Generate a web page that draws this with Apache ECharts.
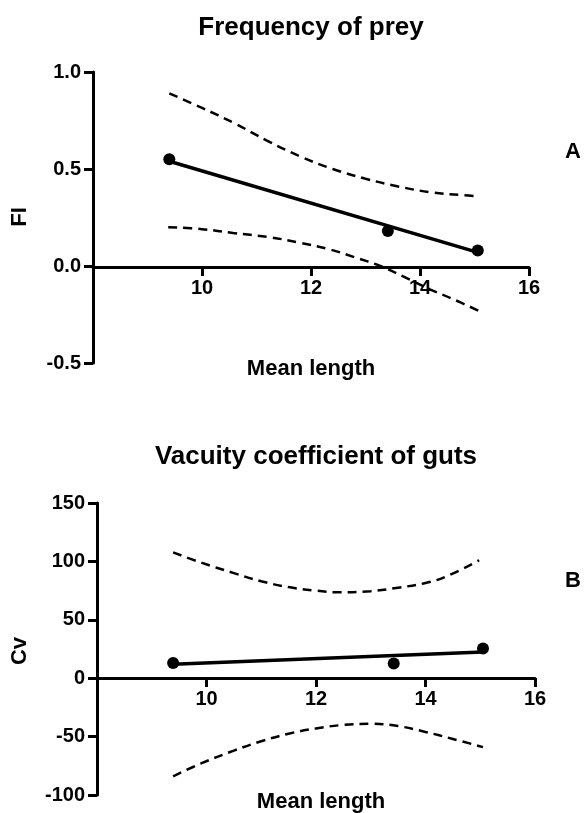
<!DOCTYPE html>
<html>
<head>
<meta charset="utf-8">
<script src="https://cdn.jsdelivr.net/npm/echarts@6/dist/echarts.min.js"></script>
<style>
  html, body { margin: 0; padding: 0; background: #fff; }
  #chart { width: 585px; height: 813px; }
</style>
</head>
<body>
<div id="chart"></div>
<script>
// panel A: frequency of prey
const lengthA = [9.4, 13.41, 15.06];
const fiA = [0.55, 0.18, 0.08];
const fitXA = [9.4, 15.06];
const fitYA = [0.54, 0.07];
const upperXA = [9.4, 10.0, 10.6, 11.2, 11.8, 12.4, 13.0, 13.6, 14.2, 14.8, 15.07];
const upperYA = [0.89, 0.815, 0.735, 0.645, 0.565, 0.5, 0.45, 0.41, 0.38, 0.365, 0.36];
const lowerXA = [9.38, 10.0, 10.57, 11.2, 11.8, 12.35, 12.8, 13.27, 13.7, 14.18, 14.6, 15.07];
const lowerYA = [0.2, 0.19, 0.17, 0.15, 0.12, 0.085, 0.045, 0.0, -0.055, -0.12, -0.17, -0.23];

// panel B: vacuity coefficient
const lengthB = [9.39, 13.42, 15.05];
const cvB = [13, 12.5, 25.5];
const fitXB = [9.39, 15.05];
const fitYB = [12, 22.5];
const upperXB = [9.39, 9.9, 10.5, 11.0, 11.5, 12.0, 12.45, 13.0, 13.5, 14.0, 14.4, 14.98];
const upperYB = [107.7, 99, 90, 83, 78, 75, 73.5, 74.5, 77.5, 81.5, 87.5, 101];
const lowerXB = [9.39, 9.9, 10.5, 11.0, 11.5, 12.0, 12.5, 13.0, 13.5, 14.0, 14.5, 15.05];
const lowerYB = [-84, -73, -62, -54, -47.5, -43, -40, -39, -41, -46, -52, -59];

const xTicks = { min: 8, max: 16, interval: 2 };
const yTicksA = { min: -0.5, max: 1, interval: 0.5 };
const yTicksB = { min: -100, max: 150, interval: 50 };

const FONT = '"Liberation Sans", Arial, sans-serif';
const zip = (xs, ys) => xs.map((x, i) => [x, ys[i]]);

const axisLine = { onZero: false, lineStyle: { color: '#000', width: 3 } };
const axisTick = { length: 9, lineStyle: { color: '#000', width: 3 } };

// x axis is drawn through y = 0, so it is lifted from the grid bottom
function xAxis(gridIndex, lift) {
  return {
    type: 'value', gridIndex, offset: -lift,
    min: xTicks.min, max: xTicks.max, interval: xTicks.interval,
    axisLine, axisTick,
    splitLine: { show: false },
    axisLabel: {
      showMinLabel: false, margin: 11, color: '#000',
      fontFamily: FONT, fontWeight: 'bold', fontSize: 20
    }
  };
}

function yAxis(gridIndex, t, fmt) {
  return {
    type: 'value', gridIndex,
    min: t.min, max: t.max, interval: t.interval,
    axisLine, axisTick,
    splitLine: { show: false },
    axisLabel: {
      margin: 12, color: '#000', formatter: fmt,
      fontFamily: FONT, fontWeight: 'bold', fontSize: 20
    }
  };
}

function panelSeries(idx, px, py, fx, fy, ux, uy, lx, ly) {
  const dashed = { color: '#000', width: 2.5, type: [9, 6] };
  return [
    { type: 'line', xAxisIndex: idx, yAxisIndex: idx, data: zip(fx, fy), symbol: 'none',
      lineStyle: { color: '#000', width: 3.5 }, z: 3 },
    { type: 'line', xAxisIndex: idx, yAxisIndex: idx, data: zip(ux, uy), symbol: 'none',
      smooth: 0.4, lineStyle: dashed },
    { type: 'line', xAxisIndex: idx, yAxisIndex: idx, data: zip(lx, ly), symbol: 'none',
      smooth: 0.4, lineStyle: dashed },
    { type: 'scatter', xAxisIndex: idx, yAxisIndex: idx, data: zip(px, py), symbolSize: 12,
      itemStyle: { color: '#000', opacity: 1 }, z: 4 }
  ];
}

function label(text, x, y, size, rot) {
  return {
    type: 'text', x, y, rotation: rot || 0,
    style: {
      text, fill: '#000', font: 'bold ' + size + 'px ' + FONT,
      textAlign: 'center', align: 'center',
      textVerticalAlign: 'middle', verticalAlign: 'middle'
    }
  };
}

const chart = echarts.init(document.getElementById('chart'), null, { renderer: 'canvas' });
chart.setOption({
  backgroundColor: '#fff',
  animation: false,
  grid: [
    { left: 93, top: 72, width: 436, height: 291 },
    { left: 97, top: 503, width: 438, height: 292 }
  ],
  xAxis: [xAxis(0, 96), xAxis(1, 117)],
  yAxis: [
    yAxis(0, yTicksA, v => v.toFixed(1)),
    yAxis(1, yTicksB, v => String(v))
  ],
  series: [
    ...panelSeries(0, lengthA, fiA, fitXA, fitYA, upperXA, upperYA, lowerXA, lowerYA),
    ...panelSeries(1, lengthB, cvB, fitXB, fitYB, upperXB, upperYB, lowerXB, lowerYB)
  ],
  graphic: [
    label('Frequency of prey', 311, 28, 26),
    label('Vacuity coefficient of guts', 316, 457, 26),
    label('Mean length', 311, 369, 22),
    label('Mean length', 321, 802, 22),
    label('FI', 20, 217, 22, Math.PI / 2),
    label('Cv', 20, 651, 22, Math.PI / 2),
    label('A', 573, 152, 22),
    label('B', 573, 581, 22)
  ]
});
</script>
</body>
</html>
